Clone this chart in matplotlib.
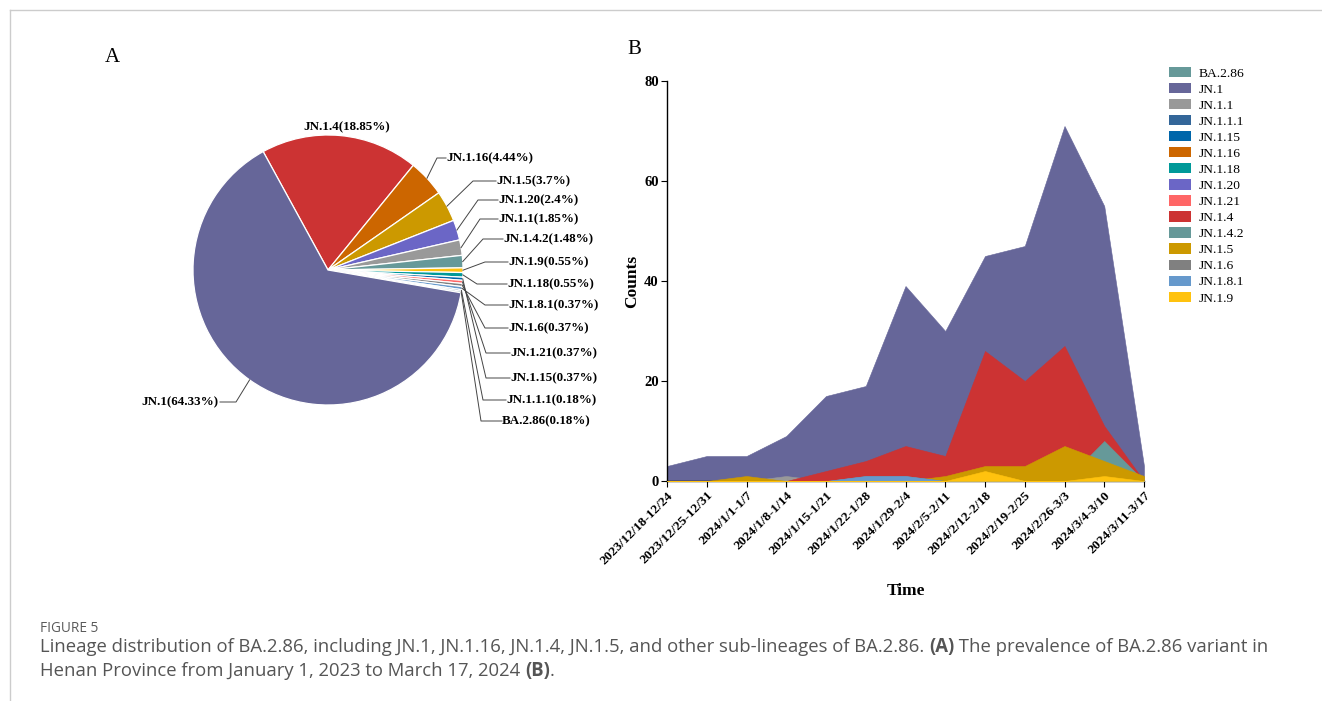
"""Figure 5: BA.2.86 lineage share (pie) and weekly counts (area)."""

import matplotlib
matplotlib.use("Agg")
import matplotlib.pyplot as plt
from matplotlib.patches import Patch
from matplotlib.lines import Line2D
import numpy as np

W, H = 1322, 701
SERIF = "Liberation Serif"
SANS = "Open Sans"

weeks = ["2023/12/18-12/24", "2023/12/25-12/31", "2024/1/1-1/7", "2024/1/8-1/14",
         "2024/1/15-1/21", "2024/1/22-1/28", "2024/1/29-2/4", "2024/2/5-2/11",
         "2024/2/12-2/18", "2024/2/19-2/25", "2024/2/26-3/3", "2024/3/4-3/10",
         "2024/3/11-3/17"]

# weekly counts per lineage (hidden series estimated so totals match the pie)
ba_2_86 = [0, 0, 0, 0, 0, 0, 0, 0, 0, 0, 1, 0, 0]
jn_1 = [3, 5, 5, 9, 17, 19, 39, 30, 45, 47, 71, 55, 3]
jn_1_1 = [0, 0, 0, 1, 0, 1, 1, 0, 3, 2, 2, 0, 0]
jn_1_1_1 = [0, 0, 0, 0, 0, 0, 0, 0, 0, 1, 0, 0, 0]
jn_1_15 = [0, 0, 0, 0, 0, 0, 0, 0, 0, 1, 1, 0, 0]
jn_1_16 = [0, 0, 0, 0, 0, 0, 2, 1, 5, 5, 7, 4, 0]
jn_1_18 = [0, 0, 0, 0, 0, 0, 0, 0, 1, 0, 1, 1, 0]
jn_1_20 = [0, 0, 0, 0, 0, 0, 0, 0, 3, 3, 4, 3, 0]
jn_1_21 = [0, 0, 0, 0, 0, 0, 0, 0, 1, 0, 1, 0, 0]
jn_1_4 = [0, 0, 0, 0, 2, 4, 7, 5, 26, 20, 27, 11, 0]
jn_1_4_2 = [0, 0, 0, 0, 0, 0, 0, 0, 0, 0, 0, 8, 0]
jn_1_5 = [0, 0, 1, 0, 0, 0, 0, 1, 3, 3, 7, 4, 1]
jn_1_6 = [0, 0, 0, 0, 0, 1, 1, 0, 0, 0, 0, 0, 0]
jn_1_8_1 = [0, 0, 0, 0, 0, 1, 1, 0, 0, 0, 0, 0, 0]
jn_1_9 = [0, 0, 0, 0, 0, 0, 0, 0, 2, 0, 0, 1, 0]

lineages = ["BA.2.86", "JN.1", "JN.1.1", "JN.1.1.1", "JN.1.15", "JN.1.16", "JN.1.18",
            "JN.1.20", "JN.1.21", "JN.1.4", "JN.1.4.2", "JN.1.5", "JN.1.6",
            "JN.1.8.1", "JN.1.9"]
weekly = [ba_2_86, jn_1, jn_1_1, jn_1_1_1, jn_1_15, jn_1_16, jn_1_18, jn_1_20,
          jn_1_21, jn_1_4, jn_1_4_2, jn_1_5, jn_1_6, jn_1_8_1, jn_1_9]
colors = ["#669999", "#666699", "#999999", "#336699", "#0066AA", "#CC6600", "#009999",
          "#6B66C6", "#FF6666", "#CC3333", "#669999", "#CC9900", "#808080",
          "#6699CC", "#FFC20E"]

# pie slices, clockwise from the JN.1.4 edge
pie_order = ["JN.1.4", "JN.1.16", "JN.1.5", "JN.1.20", "JN.1.1", "JN.1.4.2", "JN.1.9",
             "JN.1.18", "JN.1.15", "JN.1.21", "JN.1.6", "JN.1.8.1", "JN.1.1.1",
             "BA.2.86", "JN.1"]

# label placement in image pixels: (text x, text y, elbow x)
label_pos = {
    "JN.1.16": (446, 158, 437),
    "JN.1.5": (496, 181, 473),
    "JN.1.20": (498, 200, 478),
    "JN.1.1": (498, 219, 480),
    "JN.1.4.2": (503, 239, 483),
    "JN.1.9": (508, 262, 485),
    "JN.1.18": (507, 284, 477),
    "JN.1.8.1": (508, 305, 485),
    "JN.1.6": (508, 328, 485),
    "JN.1.21": (510, 353, 486),
    "JN.1.15": (510, 378, 486),
    "JN.1.1.1": (506, 400, 483),
    "BA.2.86": (502, 421, 481),
}

fig = plt.figure(figsize=(W / 100, H / 100), dpi=100)

# overlay axes in pixel units (y up) for the pie, letters, frame and caption
ov = fig.add_axes([0, 0, 1, 1])
ov.axis("off")

totals = {name: sum(vals) for name, vals in zip(lineages, weekly)}
color_of = dict(zip(lineages, colors))
n_total = sum(totals.values())
pie_vals = [totals[n] for n in pie_order]
cx, cy, rad = 328, H - 270, 135
wedges, _ = ov.pie(pie_vals, colors=[color_of[n] for n in pie_order],
                   startangle=118.7, counterclock=False, center=(cx, cy), radius=rad,
                   wedgeprops=dict(edgecolor="white", linewidth=0.9))
ov.set_xlim(0, W)
ov.set_ylim(0, H)
ov.set_aspect("auto")

lbl_kw = dict(fontfamily=SERIF, fontweight="bold", fontsize=9.4, color="black")
line_kw = dict(color="#444444", lw=0.7)
for w, name in zip(wedges, pie_order):
    pct = f"{round(totals[name] / n_total * 100, 2):g}"
    text = f"{name}({pct}%)"
    mid = np.deg2rad((w.theta1 + w.theta2) / 2)
    ex, ey = cx + rad * np.cos(mid), cy + rad * np.sin(mid)
    if name == "JN.1.4":
        ov.text(347, H - 127, text, ha="center", va="center", **lbl_kw)
    elif name == "JN.1":
        ov.plot([ex, 236, 220], [ey, H - 402, H - 402], **line_kw)
        ov.text(219, H - 402, text, ha="right", va="center", **lbl_kw)
    else:
        tx, ty, kx = label_pos[name]
        ov.plot([ex, kx, tx], [ey, H - ty, H - ty], **line_kw)
        ov.text(tx, H - ty, text, ha="left", va="center", **lbl_kw)

ov.text(112, H - 57, "A", fontfamily=SERIF, fontsize=15, ha="center", va="center")
ov.text(634, H - 50, "B", fontfamily=SERIF, fontsize=15, ha="center", va="center")

# thin frame lines along top and left
ov.add_line(Line2D([10, W], [H - 10, H - 10], color="#cccccc", lw=1))
ov.add_line(Line2D([10, 10], [0, H - 10], color="#cccccc", lw=1))

# area chart (series overlap, drawn in legend order)
x0, x1, y0, y1 = 667, 1144, 481, 81
ax = fig.add_axes([x0 / W, 1 - y0 / H, (x1 - x0) / W, (y0 - y1) / H])
xs = np.arange(len(weeks))
for z, (name, vals, col) in enumerate(zip(lineages, weekly, colors)):
    ax.fill_between(xs, 0, vals, color=col, lw=0.4, edgecolor=col, zorder=z + 1)
ax.set_xlim(0, len(weeks) - 1)
ax.set_ylim(0, 80)
ax.set_yticks([0, 20, 40, 60, 80])
ax.set_xticks(xs)
ax.set_xticklabels(weeks, rotation=45, ha="right", rotation_mode="anchor")
for lab in ax.get_xticklabels():
    lab.set_fontfamily(SERIF)
    lab.set_fontweight("bold")
    lab.set_fontsize(9.7)
for lab in ax.get_yticklabels():
    lab.set_fontfamily(SERIF)
    lab.set_fontweight("bold")
    lab.set_fontsize(10.5)
ax.tick_params(length=4, width=0.8, pad=2)
for s in ("top", "right"):
    ax.spines[s].set_visible(False)
for s in ("left", "bottom"):
    ax.spines[s].set_linewidth(1.0)
ax.set_ylabel("Counts", fontfamily=SERIF, fontweight="bold", fontsize=12.5, labelpad=3)
ax.set_xlabel("Time", fontfamily=SERIF, fontweight="bold", fontsize=12.5, labelpad=12)

handles = [Patch(facecolor=c, edgecolor="none") for c in colors]
fig.legend(handles, lineages, loc="upper left", bbox_to_anchor=(1162 / W, 1 - 60 / H),
           frameon=False, prop=dict(family=SERIF, size=9.7), handlelength=1.65,
           handleheight=0.8, labelspacing=0.24, handletextpad=0.55, borderpad=0)

# caption with bold panel markers
renderer = fig.canvas.get_renderer()


def draw_runs(x, y, runs, **kw):
    """Write text pieces one after another on a single line."""
    for txt, bold in runs:
        t = ov.text(x, y, txt, fontweight="bold" if bold else "normal", va="center",
                    ha="left", **kw)
        bb = t.get_window_extent(renderer)
        x += bb.width


ov.text(40, H - 628, "FIGURE 5", fontfamily=SANS, fontsize=9.8, color="#5a5a5a",
        va="center")
cap_kw = dict(fontfamily=SANS, fontsize=13.35, color="#555555")
draw_runs(40, H - 647, [("Lineage distribution of BA.2.86, including JN.1, JN.1.16, JN.1.4, "
                         "JN.1.5, and other sub-lineages of BA.2.86. ", False), ("(A)", True),
                        (" The prevalence of BA.2.86 variant in", False)], **cap_kw)
draw_runs(40, H - 671, [("Henan Province from January 1, 2023 to March 17, 2024 ", False),
                        ("(B)", True), (".", False)], **cap_kw)

fig.savefig("out.png", dpi=100)
